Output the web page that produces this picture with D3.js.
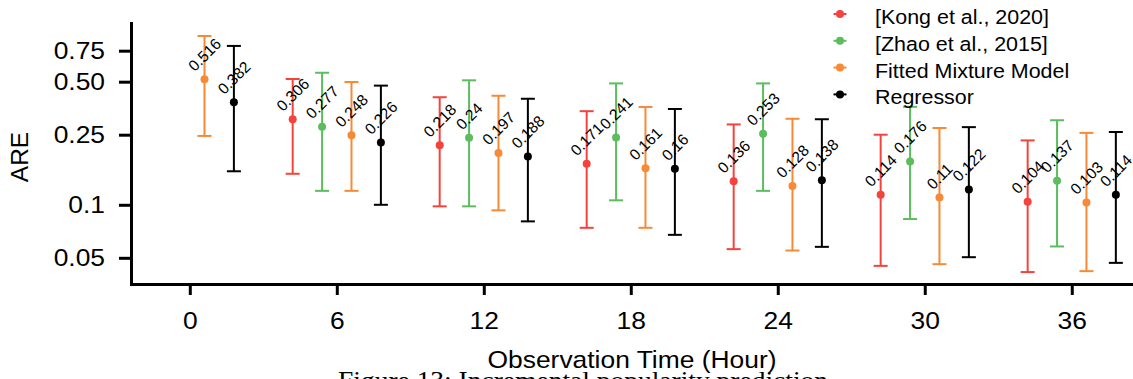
<!DOCTYPE html>
<html>
<head>
<meta charset="utf-8">
<script src="https://cdn.jsdelivr.net/npm/d3@7"></script>
<style>
  body { margin: 0; background: #fff; }
  svg text { font-family: "Liberation Sans", Arial, Helvetica, sans-serif; fill: #000; }
</style>
</head>
<body>
<svg id="chart" width="1133" height="379"></svg>
<script>
// data
var hours = [0, 6, 12, 18, 24, 30, 36];
var seriesNames = ['[Kong et al., 2020]', '[Zhao et al., 2015]', 'Fitted Mixture Model', 'Regressor'];

var kongMean = [null, 0.306, 0.218, 0.171, 0.136, 0.114, 0.104];
var kongLow  = [null, 0.150, 0.098, 0.074, 0.056, 0.045, 0.0415];
var kongHigh = [null, 0.518, 0.408, 0.340, 0.286, 0.250, 0.232];

var zhaoMean = [null, 0.277, 0.24, 0.241, 0.253, 0.176, 0.137];
var zhaoLow  = [null, 0.120, 0.098, 0.106, 0.120, 0.083, 0.058];
var zhaoHigh = [null, 0.562, 0.509, 0.489, 0.489, 0.360, 0.302];

var fitMean = [0.516, 0.248, 0.197, 0.161, 0.128, 0.11, 0.103];
var fitLow  = [0.246, 0.120, 0.093, 0.074, 0.055, 0.046, 0.042];
var fitHigh = [0.909, 0.498, 0.416, 0.359, 0.308, 0.273, 0.256];

var regMean = [0.382, 0.226, 0.188, 0.16, 0.138, 0.122, 0.114];
var regLow  = [0.155, 0.100, 0.0805, 0.0675, 0.0577, 0.0504, 0.0468];
var regHigh = [0.798, 0.475, 0.400, 0.350, 0.306, 0.276, 0.259];

var yTicks = [0.05, 0.1, 0.25, 0.5, 0.75];
var yTickLabels = ['0.05', '0.1', '0.25', '0.50', '0.75'];
var xTicks = [0, 6, 12, 18, 24, 30, 36];

// styling
var colors = ['#f4433c', '#5cbd5e', '#f68a36', '#000000'];
var offsets = [-1.8, -0.6, 0.6, 1.8];
var stretch = 1.1;

var series = [
  { name: seriesNames[0], mean: kongMean, low: kongLow, high: kongHigh },
  { name: seriesNames[1], mean: zhaoMean, low: zhaoLow, high: zhaoHigh },
  { name: seriesNames[2], mean: fitMean, low: fitLow, high: fitHigh },
  { name: seriesNames[3], mean: regMean, low: regLow, high: regHigh }
];

var svg = d3.select('#chart');

var x = d3.scaleLinear().domain([-2.4, 38.5]).range([131, 1133]);
var y = d3.scaleLog().domain([0.0355, 1.077]).range([284, 23]);

// axes
var yAxis = svg.append('g')
  .attr('transform', 'translate(131,0)')
  .call(d3.axisLeft(y)
    .tickValues(yTicks)
    .tickFormat(function(d, i) { return yTickLabels[i]; })
    .tickSize(12)
    .tickSizeOuter(0)
    .tickPadding(14));

var xAxis = svg.append('g')
  .attr('transform', 'translate(0,284)')
  .call(d3.axisBottom(x)
    .tickValues(xTicks)
    .tickSize(11)
    .tickSizeOuter(0)
    .tickPadding(17));

[yAxis, xAxis].forEach(function(ax) {
  ax.select('.domain').attr('stroke', '#000').attr('stroke-width', 3).attr('stroke-linecap', 'square');
  ax.selectAll('.tick line').attr('stroke', '#000').attr('stroke-width', 3);
  ax.selectAll('.tick text').attr('font-size', 24).attr('fill', '#000');
});
yAxis.selectAll('.tick text')
  .attr('x', 0)
  .attr('transform', 'translate(-26,0) scale(' + stretch + ',1)');
xAxis.selectAll('.tick text')
  .attr('transform', 'scale(' + stretch + ',1)');

// error bars
var bars = svg.append('g');
series.forEach(function(s, si) {
  s.mean.forEach(function(m, i) {
    if (m == null) return;
    var px = x(hours[i] + offsets[si]);
    var g = bars.append('g').attr('stroke', colors[si]).attr('stroke-width', 2);
    g.append('line').attr('x1', px).attr('x2', px).attr('y1', y(s.low[i])).attr('y2', y(s.high[i]));
    g.append('line').attr('x1', px - 7).attr('x2', px + 7).attr('y1', y(s.low[i])).attr('y2', y(s.low[i]));
    g.append('line').attr('x1', px - 7).attr('x2', px + 7).attr('y1', y(s.high[i])).attr('y2', y(s.high[i]));
    bars.append('circle').attr('cx', px).attr('cy', y(m)).attr('r', 4).attr('fill', colors[si]);
  });
});

// value labels
var labels = svg.append('g');
var fs = 15.5;
series.forEach(function(s, si) {
  s.mean.forEach(function(m, i) {
    if (m == null) return;
    var px = x(hours[i] + offsets[si]);
    var py = y(m);
    var t = labels.append('text')
      .attr('font-size', fs)
      .attr('text-anchor', 'middle')
      .attr('dy', '0.36em')
      .text(String(m));
    var w = t.node().getComputedTextLength();
    var side = (w + 0.72 * fs) / Math.SQRT2;
    t.attr('transform', 'translate(' + px + ',' + (py - 7 - side / 2) + ') rotate(-45)');
  });
});

// legend
var legend = svg.append('g');
series.forEach(function(s, si) {
  var row = legend.append('g').attr('transform', 'translate(840,' + (14 + si * 26.8) + ')');
  row.append('line').attr('x1', -6.5).attr('x2', 6.5).attr('stroke', colors[si]).attr('stroke-width', 2);
  row.append('circle').attr('r', 4).attr('fill', colors[si]);
  row.append('text')
    .attr('font-size', 19.5)
    .attr('transform', 'translate(35,10) scale(' + stretch + ',1)')
    .text(s.name);
});

// axis titles
svg.append('text')
  .attr('font-size', 24)
  .attr('text-anchor', 'middle')
  .attr('transform', 'translate(632,368) scale(' + stretch + ',1)')
  .text('Observation Time (Hour)');

svg.append('text')
  .attr('font-size', 24.5)
  .attr('text-anchor', 'middle')
  .attr('transform', 'translate(28,157) rotate(-90)')
  .text('ARE');

// caption, cut off by the bottom edge
svg.append('text')
  .style('font-family', '"Liberation Serif", "Times New Roman", serif')
  .attr('font-size', 25)
  .attr('transform', 'translate(338,389) scale(' + stretch + ',1)')
  .text('Figure 13: Incremental popularity prediction');
</script>
</body>
</html>
